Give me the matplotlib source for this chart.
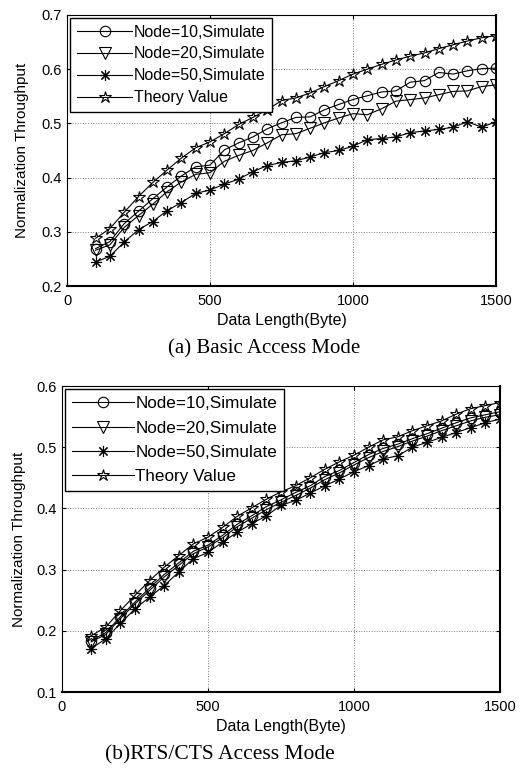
import matplotlib
matplotlib.use('Agg')
import matplotlib.pyplot as plt

plt.rcParams['font.family'] = ['Liberation Sans', 'DejaVu Sans']

# data length (byte)
data_len = [100, 150, 200, 250, 300, 350, 400, 450, 500, 550, 600, 650, 700, 750, 800,
            850, 900, 950, 1000, 1050, 1100, 1150, 1200, 1250, 1300, 1350, 1400, 1450, 1500]

# (a) basic access mode
node10_a = [0.269, 0.282, 0.315, 0.338, 0.361, 0.383, 0.403, 0.420, 0.423, 0.451, 0.464, 0.475, 0.490, 0.501,
            0.511, 0.512, 0.525, 0.535, 0.544, 0.551, 0.558, 0.560, 0.576, 0.579, 0.594, 0.591, 0.597, 0.601, 0.602]
node20_a = [0.266, 0.276, 0.308, 0.330, 0.351, 0.374, 0.392, 0.406, 0.409, 0.430, 0.441, 0.450, 0.464, 0.479,
            0.481, 0.491, 0.501, 0.510, 0.518, 0.516, 0.527, 0.541, 0.544, 0.547, 0.553, 0.559, 0.560, 0.568, 0.571]
node50_a = [0.244, 0.255, 0.281, 0.304, 0.319, 0.339, 0.354, 0.371, 0.377, 0.388, 0.397, 0.411, 0.422, 0.428,
            0.431, 0.438, 0.446, 0.450, 0.458, 0.470, 0.472, 0.475, 0.483, 0.486, 0.489, 0.493, 0.503, 0.493, 0.503]
theory_a = [0.288, 0.306, 0.336, 0.365, 0.391, 0.414, 0.436, 0.455, 0.466, 0.481, 0.498, 0.511, 0.525, 0.542,
            0.547, 0.556, 0.568, 0.579, 0.591, 0.600, 0.609, 0.617, 0.624, 0.630, 0.638, 0.645, 0.652, 0.658, 0.662]

# (b) RTS/CTS access mode
node10_b = [0.184, 0.197, 0.223, 0.247, 0.270, 0.292, 0.311, 0.330, 0.340, 0.356, 0.374, 0.388, 0.403, 0.414,
            0.426, 0.437, 0.452, 0.462, 0.475, 0.488, 0.498, 0.505, 0.514, 0.522, 0.531, 0.540, 0.548, 0.553, 0.558]
node20_b = [0.182, 0.194, 0.220, 0.244, 0.266, 0.288, 0.307, 0.326, 0.337, 0.352, 0.370, 0.384, 0.398, 0.410,
            0.421, 0.433, 0.447, 0.458, 0.471, 0.483, 0.493, 0.501, 0.510, 0.518, 0.527, 0.535, 0.543, 0.549, 0.553]
node50_b = [0.171, 0.187, 0.212, 0.236, 0.255, 0.274, 0.296, 0.318, 0.328, 0.345, 0.361, 0.375, 0.388, 0.405,
            0.413, 0.425, 0.437, 0.448, 0.460, 0.470, 0.481, 0.486, 0.500, 0.508, 0.516, 0.524, 0.532, 0.540, 0.546]
theory_b = [0.192, 0.206, 0.233, 0.258, 0.282, 0.304, 0.323, 0.342, 0.353, 0.369, 0.387, 0.401, 0.415, 0.427,
            0.437, 0.450, 0.464, 0.476, 0.487, 0.500, 0.512, 0.517, 0.527, 0.535, 0.543, 0.554, 0.563, 0.568, 0.573]

labels = ['Node=10,Simulate', 'Node=20,Simulate', 'Node=50,Simulate', 'Theory Value']
markers = ['o', 'v', (8, 2, 0), '*']
msizes = [7.5, 8, 8, 9]

fig = plt.figure(figsize=(5.26, 7.69), dpi=100)
ax1 = fig.add_axes([67 / 526, 1 - 286 / 769, 429 / 526, 271 / 769])
ax2 = fig.add_axes([62 / 526, 1 - 692 / 769, 438 / 526, 306 / 769])


def draw(ax, series, ylim, legend_size, spacing, hlen, ypad):
    for ys, lab, mk, ms in zip(series, labels, markers, msizes):
        ax.plot(data_len, ys, color='black', linewidth=0.8, marker=mk, markersize=ms,
                markerfacecolor='none', markeredgecolor='black', markeredgewidth=0.8, label=lab)
    ax.set_xlim(0, 1500)
    ax.set_ylim(*ylim)
    ax.set_xticks([0, 500, 1000, 1500])
    ax.set_yticks([round(ylim[0] + 0.1 * i, 1) for i in range(6)])
    ax.grid(True, linestyle=':', color='#808080', linewidth=0.7)
    ax.tick_params(direction='in', top=True, right=True, length=3, width=0.8, labelsize=10.5)
    ax.tick_params(axis='x', pad=6)
    ax.tick_params(axis='y', pad=4)
    for s in ax.spines.values():
        s.set_color('black')
        s.set_linewidth(0.8)
    ax.spines['bottom'].set_linewidth(1.5)
    ax.spines['right'].set_linewidth(1.5)
    ax.set_xlabel('Data Length(Byte)', fontsize=11.5, labelpad=3)
    ax.set_ylabel('Normalization Throughput', fontsize=11, labelpad=ypad)
    leg = ax.legend(loc='upper left', fontsize=legend_size, frameon=True, fancybox=False,
                    edgecolor='black', framealpha=1, handlelength=hlen, handletextpad=0.1,
                    labelspacing=spacing, borderaxespad=0.2, borderpad=0.4)
    leg.get_frame().set_linewidth(1.0)


draw(ax1, [node10_a, node20_a, node50_a, theory_a], (0.2, 0.7), 11.5, 0.43, 3.5, 9)
draw(ax2, [node10_b, node20_b, node50_b, theory_b], (0.1, 0.6), 12.3, 0.55, 3.6, 7)

fig.text(264 / 526, 1 - 349 / 769, '(a) Basic Access Mode', ha='center', va='center',
         fontsize=15, family='Liberation Serif')
fig.text(220 / 526, 1 - 755 / 769, '(b)RTS/CTS Access Mode', ha='center', va='center',
         fontsize=15.5, family='Liberation Serif')

plt.savefig('out.png', dpi=100)
